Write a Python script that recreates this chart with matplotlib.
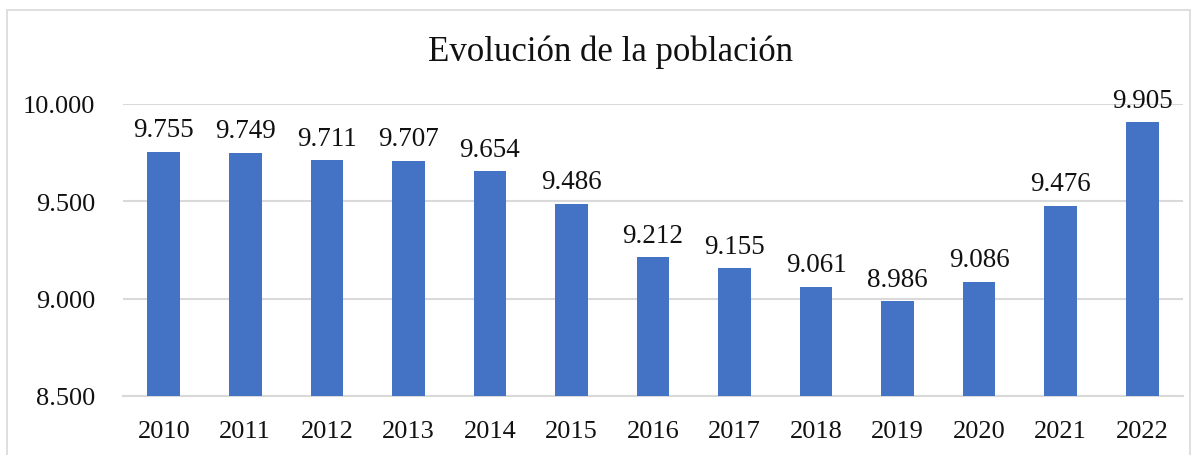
import matplotlib.pyplot as plt
from matplotlib.patches import Rectangle

# Datos
anios = ['2010', '2011', '2012', '2013', '2014', '2015', '2016',
         '2017', '2018', '2019', '2020', '2021', '2022']
poblacion = [9755, 9749, 9711, 9707, 9654, 9486, 9212,
             9155, 9061, 8986, 9086, 9476, 9905]
ticks_y = [8500, 9000, 9500, 10000]


def fmt(v):
    # separador de miles con punto
    return f'{v:,}'.replace(',', '.')


def main():
    plt.rcParams['font.family'] = ['Liberation Serif', 'DejaVu Serif']

    fig = plt.figure(figsize=(11.98, 4.56), dpi=100)
    ax = fig.add_axes([123 / 1198, 1 - 397 / 456, (1183 - 123) / 1198, (397 - 105) / 456])

    # borde del grafico
    fig.patches.append(Rectangle((7 / 1198, -0.01), (1190 - 7) / 1198, 1 - 11 / 456 + 0.01,
                                 transform=fig.transFigure, fill=False,
                                 edgecolor='#d9d9d9', linewidth=1.2))

    x = list(range(len(anios)))
    bars = ax.bar(x, poblacion, width=0.4, color='#4472C4', zorder=3)

    for b, v in zip(bars, poblacion):
        ax.annotate(fmt(v), (b.get_x() + b.get_width() / 2, v),
                    xytext=(0, 7), textcoords='offset points',
                    ha='center', va='bottom', fontsize=19.5, color='#111111')

    ax.set_ylim(8500, 10000)
    ax.set_xlim(-0.5, len(anios) - 0.5)
    ax.set_yticks(ticks_y)
    ax.set_yticklabels([fmt(t) for t in ticks_y])
    ax.set_xticks(x)
    ax.set_xticklabels(anios)
    ax.tick_params(axis='both', length=0, labelsize=19, colors='#111111')
    ax.tick_params(axis='y', pad=20)
    ax.tick_params(axis='x', pad=17)

    ax.grid(axis='y', color='#d9d9d9', linewidth=1.5, zorder=0)
    for s in ['top', 'right', 'left']:
        ax.spines[s].set_visible(False)
    ax.spines['bottom'].set_color('#d9d9d9')
    ax.spines['bottom'].set_linewidth(1.5)

    fig.text(611 / 1198, 1 - 52 / 456, 'Evolución de la población',
             ha='center', va='center', fontsize=25, color='#111111')

    plt.savefig('out.png', dpi=100)


main()
